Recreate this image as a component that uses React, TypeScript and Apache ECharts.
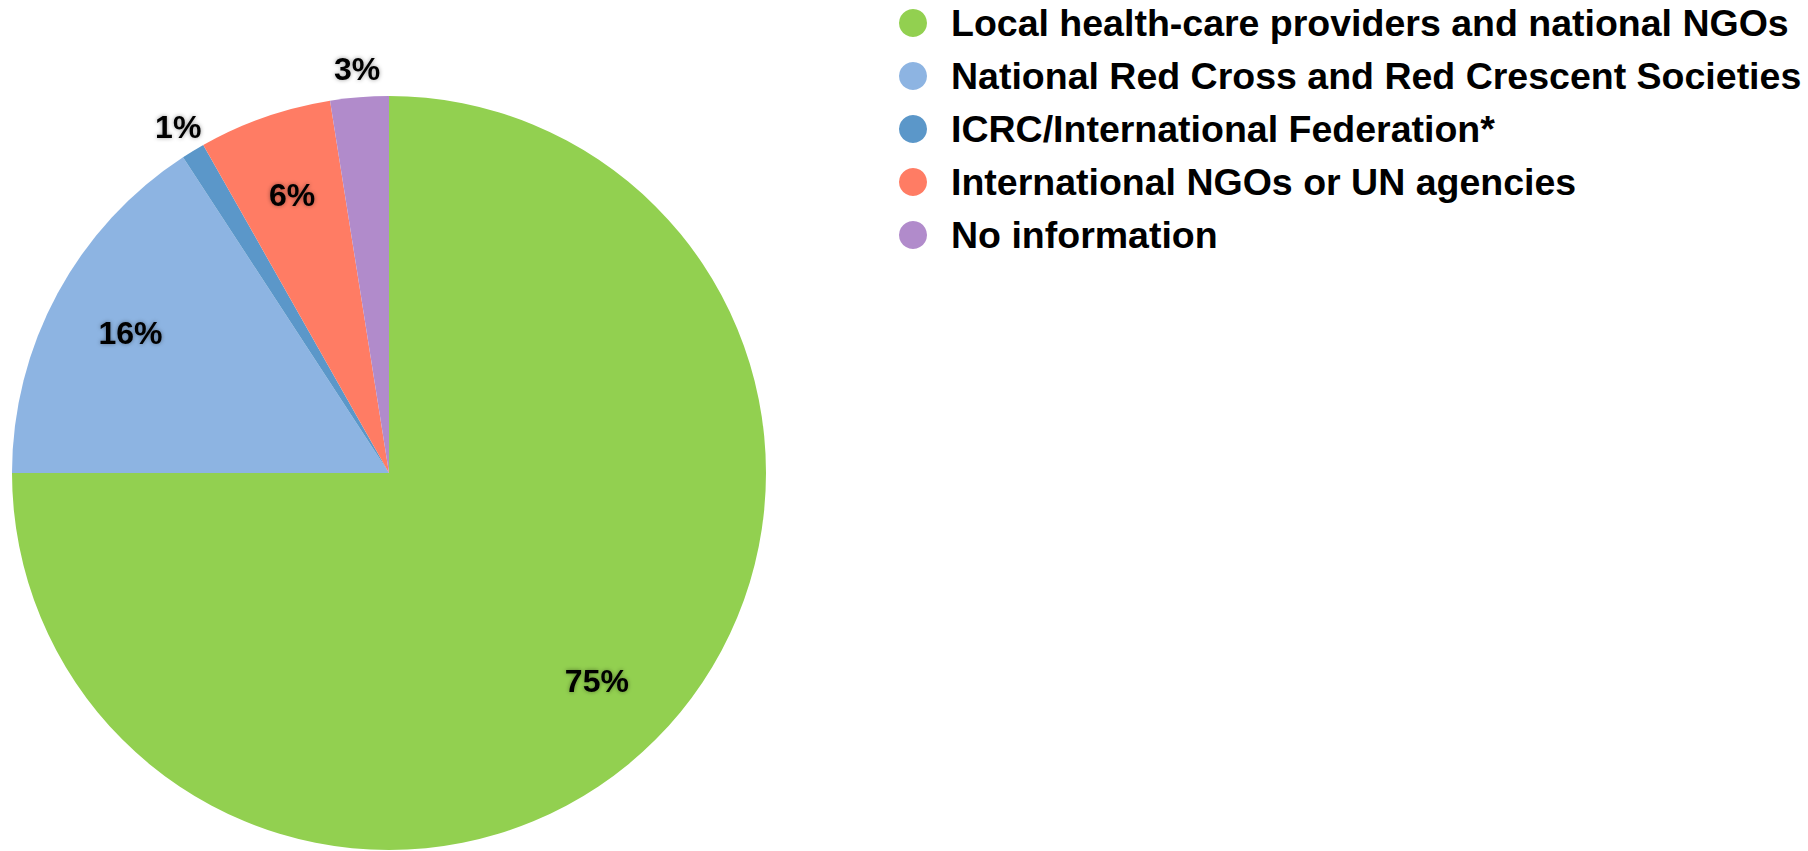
import React, { useEffect, useRef } from "react";
import * as echarts from "echarts";

const categories = [
  "Local health-care providers and national NGOs",
  "National Red Cross and Red Crescent Societies",
  "ICRC/International Federation*",
  "International NGOs or UN agencies",
  "No information",
];
const shares = [75, 15.8, 1.0, 5.7, 2.5];
const sliceColors = ["#92D050", "#8DB4E2", "#5B97C9", "#FF7C64", "#B18BCB"];
const labelPlacement = ["inside", "inside", "outside", "inside", "outside"];

const FONT = "'Liberation Sans', Arial, Helvetica, sans-serif";

export default function App() {
  const ref = useRef<HTMLDivElement>(null);
  useEffect(() => {
    document.body.style.margin = "0";
    if (!ref.current) return;
    const chart = echarts.init(ref.current, null, { renderer: "svg" });
    const center = [389, 473];
    const R = 377;
    const labelStyle = {
      fontFamily: FONT,
      fontWeight: "bold" as const,
      fontSize: 32,
      color: "#000",
      textShadowColor: "rgba(0,0,0,0.4)",
      textShadowBlur: 4,
      formatter: (p: any) => Math.round(p.value) + "%",
    };
    const mainData = categories.map((name, i) => ({
      name,
      value: shares[i],
      itemStyle: { color: sliceColors[i] },
    }));
    const labelData = (kind: string) =>
      categories.map((name, i) => ({
        name,
        value: shares[i],
        label: { show: labelPlacement[i] === kind },
      }));
    const overlay = {
      type: "pie",
      center,
      startAngle: 90,
      silent: true,
      itemStyle: { color: "transparent", borderWidth: 0 },
      labelLine: { show: false },
      emphasis: { disabled: true },
    };
    chart.setOption({
      animation: false,
      backgroundColor: "#fff",
      legend: {
        orient: "vertical",
        left: 894,
        top: -1,
        icon: "circle",
        itemWidth: 28,
        itemHeight: 28,
        itemGap: 15,
        selectedMode: false,
        data: categories,
        textStyle: {
          fontFamily: FONT,
          fontWeight: "bold",
          fontSize: 37.5,
          color: "#000",
          lineHeight: 28,
          padding: [0, 0, 0, 19],
        },
      },
      series: [
        {
          type: "pie",
          center,
          radius: R,
          startAngle: 90,
          clockwise: true,
          label: { show: false },
          labelLine: { show: false },
          itemStyle: { borderWidth: 0 },
          emphasis: { disabled: true },
          data: mainData,
        },
        {
          ...overlay,
          radius: [205, R],
          label: { ...labelStyle, position: "inside" },
          data: labelData("inside"),
        },
        {
          ...overlay,
          radius: [R, 428],
          label: { ...labelStyle, position: "inside" },
          data: labelData("outside"),
        },
      ],
    });
    return () => chart.dispose();
  }, []);
  return (
    <div
      ref={ref}
      style={{ position: "fixed", left: 0, top: 0, width: 1808, height: 851 }}
    />
  );
}
